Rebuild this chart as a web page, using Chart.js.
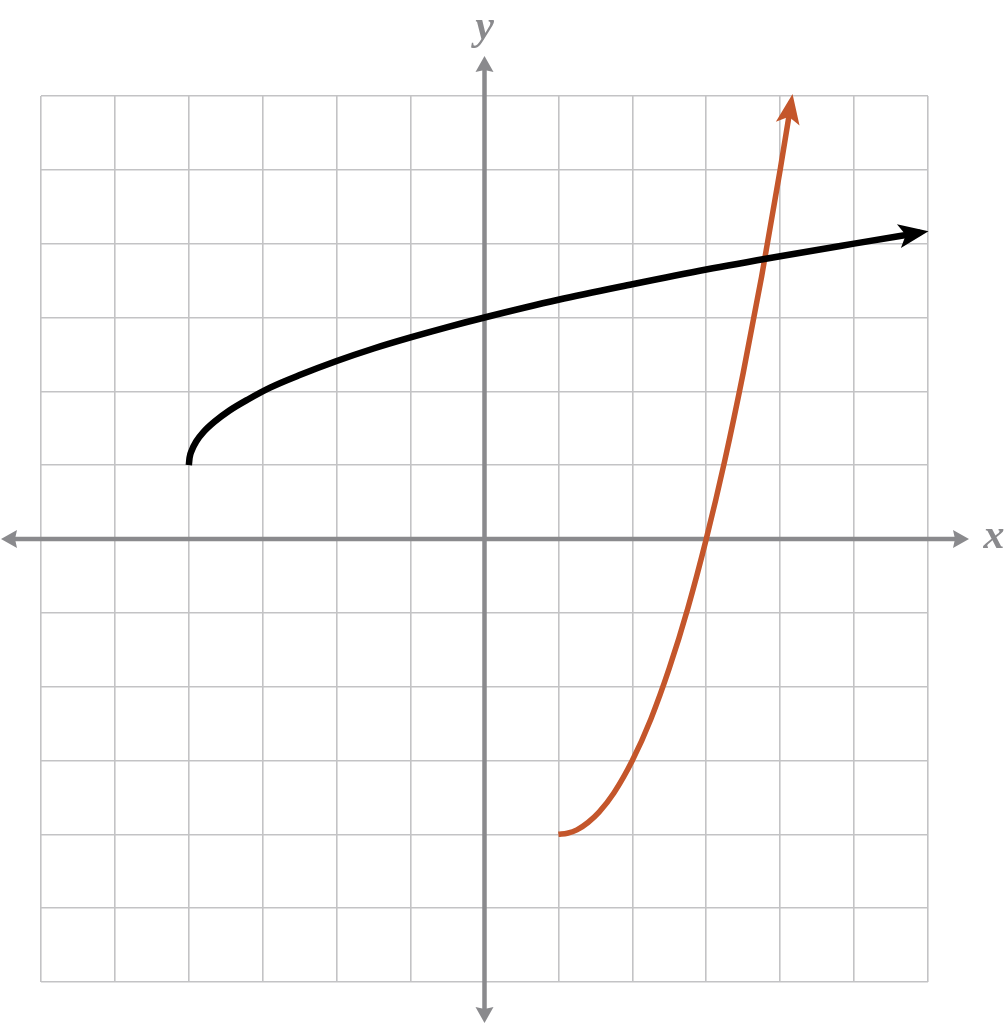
<!DOCTYPE html>
<html>
<head>
<meta charset="utf-8">
<script src="https://cdn.jsdelivr.net/npm/chart.js@4/dist/chart.umd.min.js"></script>
<style>
  html, body { margin: 0; padding: 0; background: #ffffff; }
  #c { display: block; }
</style>
</head>
<body>
<canvas id="c" width="1008" height="1024"></canvas>
<script>
// Black curve: starts at (-4, 1), passes (0, 3), arrow toward (6, ~4.16)
const blackX = [-4, -3.99, -3.96, -3.9, -3.8, -3.65, -3.45, -3.2, -2.9, -2.5, -2, -1.5, -1, -0.5, 0, 1, 2, 3, 4, 5, 5.9];
const blackY = [1, 1.1, 1.2, 1.32, 1.45, 1.59, 1.74, 1.89, 2.05, 2.22, 2.41, 2.58, 2.73, 2.87, 3, 3.24, 3.45, 3.65, 3.83, 4.0, 4.15];

// Orange curve: starts at (1, -4), crosses x-axis at 3, arrow toward (~4.16, 6)
const redX = [1, 1.12, 1.25, 1.4, 1.55, 1.75, 2, 2.25, 2.5, 2.75, 3, 3.25, 3.5, 3.75, 4, 4.15];
const redY = [-4, -3.985, -3.94, -3.84, -3.7, -3.44, -3, -2.44, -1.75, -0.94, 0, 1.06, 2.25, 3.56, 5, 5.92];

// Axis range / ticks
const axisMin = -6;
const axisMax = 6;
const tickStep = 1;
const axisLabels = ['x', 'y'];

const AXIS_COLOR = '#8a8a8d';
const GRID_COLOR = '#c3c3c5';
const BLACK = '#000000';
const ORANGE = '#c4562b';

function toPoints(xs, ys) { return xs.map((x, i) => ({ x: x, y: ys[i] })); }

function drawFilledArrow(ctx, tipX, tipY, ux, uy, len, half, notch, color) {
  const px = -uy, py = ux;
  ctx.save();
  ctx.fillStyle = color;
  ctx.beginPath();
  ctx.moveTo(tipX, tipY);
  ctx.lineTo(tipX - ux * len + px * half, tipY - uy * len + py * half);
  ctx.lineTo(tipX - ux * (len - notch), tipY - uy * (len - notch));
  ctx.lineTo(tipX - ux * len - px * half, tipY - uy * len - py * half);
  ctx.closePath();
  ctx.fill();
  ctx.restore();
}

const axesPlugin = {
  id: 'axesPlugin',
  beforeDatasetsDraw(chart) {
    const ctx = chart.ctx;
    const xs = chart.scales.x, ys = chart.scales.y;
    const x0 = xs.getPixelForValue(0);
    const y0 = ys.getPixelForValue(0);
    const H = chart.height;
    ctx.save();
    ctx.strokeStyle = AXIS_COLOR;
    ctx.lineWidth = 4.5;
    ctx.lineCap = 'butt';
    ctx.beginPath();
    ctx.moveTo(12, y0);
    ctx.lineTo(958, y0);
    ctx.stroke();
    ctx.beginPath();
    ctx.moveTo(x0, 68);
    ctx.lineTo(x0, H - 12);
    ctx.stroke();
    ctx.restore();
    drawFilledArrow(ctx, 969, y0, 1, 0, 16, 9, 2, AXIS_COLOR);
    drawFilledArrow(ctx, 1, y0, -1, 0, 16, 9, 2, AXIS_COLOR);
    drawFilledArrow(ctx, x0, 56, 0, -1, 16, 9, 2, AXIS_COLOR);
    drawFilledArrow(ctx, x0, H - 1, 0, 1, 16, 9, 2, AXIS_COLOR);

    ctx.save();
    ctx.fillStyle = AXIS_COLOR;
    ctx.font = 'italic bold 42px "Liberation Serif", "DejaVu Serif", serif';
    ctx.textAlign = 'center';
    ctx.textBaseline = 'middle';
    ctx.fillText(axisLabels[0], 994, y0 - 2);
    ctx.fillText(axisLabels[1], x0, 28);
    ctx.restore();
  },
  afterDatasetsDraw(chart) {
    const ctx = chart.ctx;
    chart.data.datasets.forEach((ds, i) => {
      const meta = chart.getDatasetMeta(i);
      const pts = meta.data;
      const n = pts.length;
      if (n < 2) return;
      const a = pts[n - 2], b = pts[n - 1];
      let dx = b.x - a.x, dy = b.y - a.y;
      const L = Math.hypot(dx, dy);
      dx /= L; dy /= L;
      const ext = 8;
      drawFilledArrow(ctx, b.x + dx * ext, b.y + dy * ext, dx, dy, 30, 12, 7, ds.borderColor);
    });
  }
};

new Chart(document.getElementById('c'), {
  type: 'line',
  data: {
    datasets: [
      {
        data: toPoints(blackX, blackY),
        borderColor: BLACK,
        borderWidth: 6.5,
        pointRadius: 0,
        cubicInterpolationMode: 'monotone',
        borderCapStyle: 'butt',
        fill: false
      },
      {
        data: toPoints(redX, redY),
        borderColor: ORANGE,
        borderWidth: 5.5,
        pointRadius: 0,
        cubicInterpolationMode: 'monotone',
        borderCapStyle: 'butt',
        fill: false
      }
    ]
  },
  options: {
    responsive: false,
    animation: false,
    devicePixelRatio: 1,
    layout: { padding: { left: 41, right: 80, top: 96, bottom: 42 } },
    plugins: { legend: { display: false }, tooltip: { enabled: false } },
    elements: { line: { borderJoinStyle: 'round' } },
    scales: {
      x: {
        type: 'linear',
        min: axisMin, max: axisMax,
        ticks: { display: false, stepSize: tickStep },
        grid: { color: GRID_COLOR, lineWidth: 1.6, drawTicks: false },
        border: { display: false }
      },
      y: {
        type: 'linear',
        min: axisMin, max: axisMax,
        ticks: { display: false, stepSize: tickStep },
        grid: { color: GRID_COLOR, lineWidth: 1.6, drawTicks: false },
        border: { display: false }
      }
    }
  },
  plugins: [axesPlugin]
});
</script>
</body>
</html>
